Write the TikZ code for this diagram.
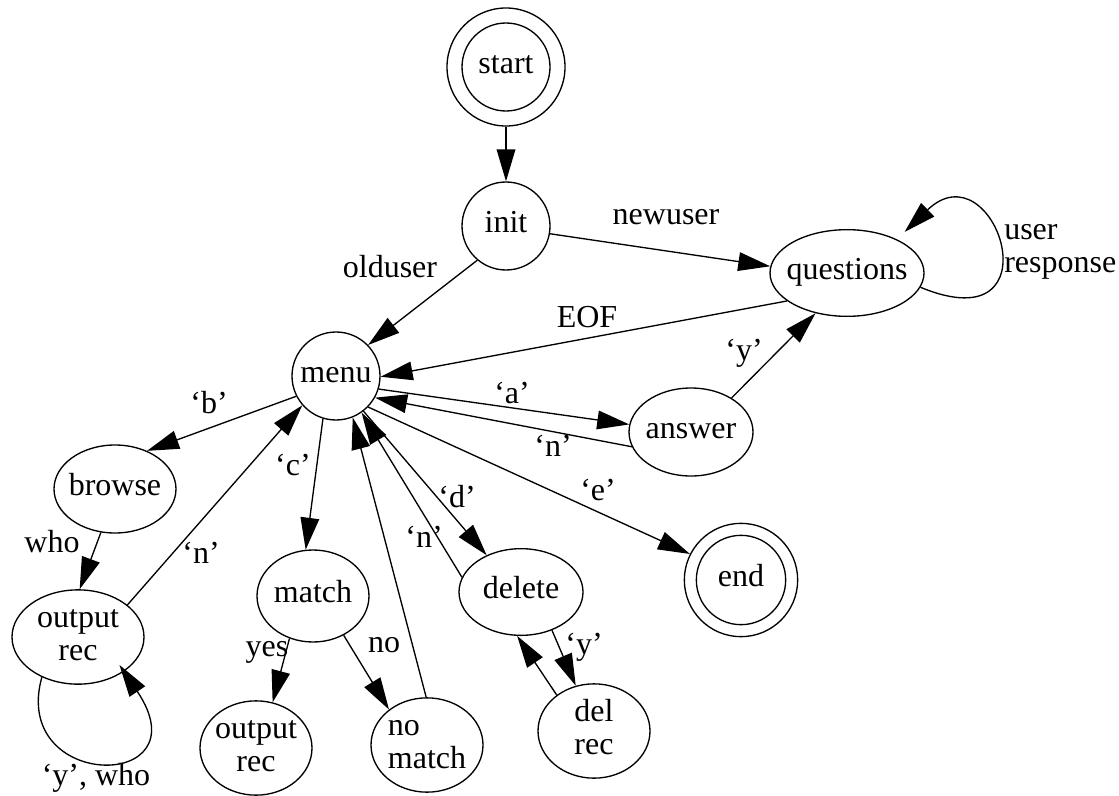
\documentclass[tikz,border=0pt]{standalone}
\usepackage{fontspec}
\setmainfont{Liberation Serif}
\usetikzlibrary{arrows.meta,shapes.geometric}
% state text: a zero-width box so the outline keeps the size it is given
\newcommand\statetext[2][c]{\makebox[0pt]{\begin{tabular}{@{}#1@{}}#2\end{tabular}}}
\begin{document}
\begin{tikzpicture}[x=0.75pt,y=-0.75pt,
  every node/.style={font=\fontsize{24}{25}\selectfont},
  st/.style={ellipse,draw,line width=1pt,inner sep=0pt},
  cst/.style={circle,draw,line width=1pt,inner sep=0pt},
  lbl/.style={inner sep=0pt},
  arr/.style={line width=1pt,-{Triangle[length=24pt,width=14pt]}},
]
\useasboundingbox (0,0) rectangle (1119,795);

% states
\node[cst,minimum size=88.5pt] (start) at (506,67) {};
\node[cst,minimum size=66pt] (start-in) at (start) {\statetext{start}};
\node[cst,minimum size=66pt] (init) at (506,226) {\statetext{init}};
\node[st,minimum width=115.5pt,minimum height=65pt] (questions) at (847,273) {\statetext{questions}};
\node[cst,minimum size=66pt] (menu) at (336,376) {\statetext{menu}};
\node[st,minimum width=93pt,minimum height=66pt] (answer) at (691,432) {\statetext{answer}};
\node[st,minimum width=91.5pt,minimum height=66pt] (browse) at (115,489) {\statetext{browse}};
\node[st,minimum width=99pt,minimum height=67.5pt] (orec1) at (78,637) {\statetext{output\\rec}};
\node[st,minimum width=84pt,minimum height=69pt] (match) at (313,596) {\statetext{match}};
\node[st,minimum width=84pt,minimum height=66pt] (orec2) at (256,748) {\statetext{output\\rec}};
\node[st,minimum width=84pt,minimum height=69pt] (nomatch) at (427,745) {\statetext[l]{no\\match}};
\node[st,minimum width=93pt,minimum height=65pt] (delete) at (521,592) {\statetext{delete}};
\node[st,minimum width=84pt,minimum height=69pt] (delrec) at (594,731) {\statetext{del\\rec}};
\node[cst,minimum size=85pt] (end) at (741,580) {};
\node[cst,minimum size=67pt] (end-in) at (end) {\statetext{end}};

% transitions
\draw[arr] (start) -- (init);
\draw[arr] (init.230) -- (menu.44);
\draw[arr] (init.-10) -- (questions.175);
\draw[arr] (questions.205) -- (menu.-1);
\draw[arr,shorten >=8pt] (questions.-11) .. controls (1060,345) and (995,145) .. (questions.34);
\draw[arr] (menu.-17) -- (answer.173);
\draw[arr] (answer.194) -- (menu.-29);
\draw[arr] (answer.40) -- (questions.232);
\draw[arr] (menu.207) -- (browse.50);
\draw[arr] (orec1.33) -- (menu.221);
\draw[arr] (browse.252) -- (orec1.88);
\draw[arr,shorten >=-6pt] (orec1.228) .. controls (10,792) and (205,792) .. (orec1.-37);
\draw[arr] (menu.253) -- (match.99);
\draw[arr] (nomatch.91) -- (menu.-68);
\draw[arr] (delete.166) -- (menu.-55);
\draw[arr] (menu.-52) -- (delete.133);
\draw[arr] (menu.-44) -- (end.153);
\draw[arr] (match.241) -- (orec2.70);
\draw[arr] (match.-52) -- (nomatch.137);
\draw[arr] (delete.-51) -- (delrec.112);
\draw[arr] (delrec.136) -- (delete.265);

% transition labels
\node[lbl] (l-old) at (390,267) {olduser};
\node[lbl] (l-new) at (666,217) {newuser};
\node[lbl] (l-eof) at (587,317) {EOF};
\node[lbl,anchor=west,align=left] (l-user) at (1004,252) {user\\response};
\node[lbl] (l-ay) at (744,353) {‘y’};
\node[lbl] (l-a) at (512,393) {‘a’};
\node[lbl] (l-an) at (553,446) {‘n’};
\node[lbl] (l-e) at (598,490) {‘e’};
\node[lbl] (l-d) at (457,497) {‘d’};
\node[lbl] (l-dn) at (424,537) {‘n’};
\node[lbl] (l-dy) at (584,647) {‘y’};
\node[lbl] (l-b) at (209,403) {‘b’};
\node[lbl] (l-c) at (293,465) {‘c’};
\node[lbl] (l-on) at (201,553) {‘n’};
\node[lbl] (l-who) at (52,542) {who};
\node[lbl] (l-yes) at (267,652) {yes};
\node[lbl] (l-no) at (384,645) {no};
\node[lbl] (l-yw) at (96,778) {‘y’, who};
\end{tikzpicture}
\end{document}
